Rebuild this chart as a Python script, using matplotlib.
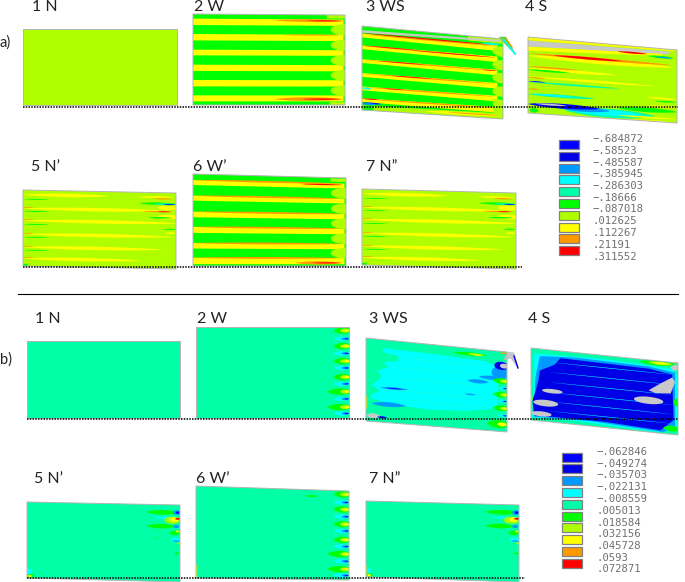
import numpy as np
import matplotlib
matplotlib.use("Agg")
import matplotlib.pyplot as plt
from matplotlib.patches import Polygon, Rectangle

D = '#0000ff'; N = '#0000e6'; S = '#0099ff'; C = '#00ffff'; T = '#00ffa6'
G = '#00ff00'; L = '#b0ff00'; Y = '#ffff00'; O = '#ff9900'; R = '#ff0000'; X = '#c8c8c8'

legend_colors = [D, N, S, C, T, G, L, Y, O, R]
labels_a = ['\u2212.684872', '\u2212.58523', '\u2212.485587', '\u2212.385945', '\u2212.286303', '\u2212.18666',
            '\u2212.087018', '.012625', '.112267', '.21191', '.311552']
labels_b = ['\u2212.062846', '\u2212.049274', '\u2212.035703', '\u2212.022131', '\u2212.008559', '.005013',
            '.018584', '.032156', '.045728', '.0593', '.072871']

#panel corners: top left, top right, bottom right, bottom left (image pixels)
a1 = [(23, 29), (177, 29), (177, 105), (23, 105)]
a2 = [(193, 14), (345, 15), (345, 105), (193, 105)]
a3 = [(362, 26), (503, 39), (503, 119), (362, 110)]
a4 = [(528, 37), (677, 50), (677, 123), (528, 113)]
a5 = [(23, 190), (176, 193), (176, 269), (23, 266)]
a6 = [(193, 174), (346, 178), (346, 266), (193, 266)]
a7 = [(362, 189), (516, 193), (516, 269), (362, 265)]
b1 = [(27, 341), (180, 341), (180, 418), (27, 418)]
b2 = [(196, 327), (349, 327), (349, 418), (196, 418)]
b3 = [(366, 338), (507, 352), (507, 432), (366, 421)]
b4 = [(531, 348), (678, 363), (678, 435), (531, 420)]
b5 = [(27, 502), (180, 505), (180, 582), (27, 578)]
b6 = [(196, 486), (349, 491), (349, 580), (196, 578)]
b7 = [(366, 501), (519, 505), (519, 582), (366, 577)]


def band(c, u0, u1, t0, b0, t1=None, b1=None):
    t1 = t0 if t1 is None else t1
    b1 = b0 if b1 is None else b1
    return c, [(u0, t0), (u1, t1), (u1, b1), (u0, b0)]


def spin(c, u0, u1, v, h):
    t = np.linspace(0, 1, 30)
    w = h * np.sin(np.pi * t) ** 0.7
    u = u0 + (u1 - u0) * t
    return c, list(zip(u, v - w)) + list(zip(u[::-1], (v + w)[::-1]))


def blob(c, uc, vc, ru, rv):
    t = np.linspace(0, 2 * np.pi, 40)
    return c, list(zip(uc + ru * np.cos(t), vc + rv * np.sin(t)))


#a) 2 W
w_stripes = [(.051, .121), (.22, .29), (.392, .454), (.557, .626), (.725, .795), (.894, .96)]
w_bulbs = [.165, .335, .505, .67, .84]
a2_shapes = [band(Y, 0, .99, s, e) for s, e in w_stripes]
a2_shapes += [blob(L, 1.0, v, .095, .062) for v in w_bulbs]
a2_shapes += [band(L, .88, 1, 0, .04), band(L, .9, 1, .965, 1)]
a2_shapes += [spin(O, .54, .99, .065, .015), spin(R, .75, .98, .067, .006), spin(O, .58, .97, .225, .006),
              spin(O, .54, .99, .935, .02), spin(R, .72, .97, .935, .007)]

#a) 3 WS
ws_stripes = [.115, .255, .42, .585, .745, .885]
a3_shapes = [band(L, .75, 1, 0, .06)]
a3_shapes += [band(X, 0, .98, .05, .08, .015, .04)]
a3_shapes += [band(Y, 0, .96, v - .025, v + .02, v - .03, v + .04) for v in ws_stripes]
a3_shapes += [spin(O, 0, .96, v - .018, .008) for v in ws_stripes]
a3_shapes += [spin(R, 0, .97, .085, .007), spin(R, 0, .4, .232, .005), spin(R, .35, .95, .24, .005),
              spin(R, .12, .45, .4, .005), spin(R, .85, .96, .405, .005), spin(R, .2, .5, .565, .005),
              spin(R, .15, .3, .725, .005), spin(R, 0, .12, .865, .006)]
a3_shapes += [blob(L, .995, v, .07, .065) for v in [.16, .33, .49, .66]]
a3_shapes += [band(L, .93, 1, .76, 1), band(L, .0, 1, .945, 1, .93, 1), spin(Y, .45, .99, .965, .018),
              spin(O, .6, .98, .96, .007), spin(C, 0, .07, .74, .012), spin(D, 0, .14, .915, .01),
              spin(S, 0, .1, .925, .012), band(G, 0, .08, .95, 1), spin(C, .85, .98, .075, .012)]

#a) 4 S
a4_shapes = [band(Y, 0, .98, 0, .04, 0, .02), band(X, 0, .95, .045, .125, .03, .07), band(Y, 0, .9, .13, .18, .07, .1)]
a4_shapes += [spin(Y, 0, .98, .245, .035), spin(O, 0, .97, .215, .018), spin(R, .17, .63, .215, .016),
              spin(R, .6, .8, .09, .012), spin(G, .8, .98, .115, .016), spin(S, .85, .97, .12, .008),
              spin(Y, 0, .6, .41, .02), spin(O, 0, .35, .385, .01), spin(G, 0, .28, .43, .012),
              spin(Y, 0, .85, .52, .015), spin(O, 0, .12, .53, .008), spin(T, 0, .62, .59, .012),
              spin(D, 0, .12, .58, .006), spin(O, 0, .08, .68, .008), spin(Y, .8, 1, .68, .015),
              spin(G, .85, 1, .72, .01), spin(T, 0, .45, .75, .02), spin(C, .02, .3, .745, .012),
              spin(Y, .8, 1, .79, .012), spin(G, .6, 1, .85, .03)]
a4_shapes += [spin(T, .25, .85, .93, .06), spin(C, .28, .76, .925, .04), spin(S, .2, .55, .9, .035),
              spin(D, 0, .48, .88, .032), spin(X, .05, .26, .87, .012), spin(Y, .6, 1, .95, .012),
              spin(Y, .7, 1, .995, .012), spin(G, .01, .07, .96, .03)]

#a) 5 N' and 7 N''
n_yellow = [(.06, .55), (.24, .95), (.40, 1.0), (.58, .97), (.75, .9), (.90, .75)]
n_green = [.12, .28, .45, .62, .79]
a5_shapes = [spin(Y, 0, e * 1.02, v, .022) for v, e in n_yellow]
a5_shapes += [spin(O, 0, .07, v - .012, .005) for v, e in n_yellow[1:]]
a5_shapes += [spin(G, 0, .17, v, .006) for v in n_green]
a5_shapes += [blob(Y, .95, .2, .07, .03), blob(Y, .95, .32, .07, .03), spin(Y, .75, .99, .06, .012),
              spin(O, .85, .98, .08, .008), spin(G, .76, 1, .145, .016), spin(T, .85, 1, .15, .012),
              spin(D, .92, 1, .155, .006), spin(O, .78, .98, .25, .008), spin(R, .88, .97, .25, .006),
              spin(G, .82, .98, .33, .01), spin(G, .92, 1, .48, .008), spin(Y, .93, 1, .53, .012),
              band(G, 0, .03, .97, 1)]
a7_shapes = list(a5_shapes)

#a) 6 W'
wp_stripes = [(.065, .12), (.235, .29), (.41, .47), (.575, .64), (.75, .81), (.91, .98)]
wp_bulbs = [.175, .35, .52, .69, .855]
a6_shapes = [band(Y, 0, .99, s, e) for s, e in wp_stripes]
a6_shapes += [spin(O, 0, .98, s, .01) for s, e in wp_stripes]
a6_shapes += [blob(L, 1.0, v, .1, .06) for v in wp_bulbs]
a6_shapes += [band(L, .9, 1, .01, .045), spin(R, .7, .98, .08, .007), spin(O, .67, .98, .965, .018),
              spin(R, .78, .96, .965, .006)]

#b) 2 W and 6 W'
b_green = [.04, .21, .375, .55, .71, .88]
b_blue = [.13, .29, .45, .625, .79, .95]
b2_shapes = []
for i, v in enumerate(b_green):
    e = .86 if i > 3 else .9
    b2_shapes += [spin(G, e, 1.02, v, .035), spin(L, .94, 1.01, v, .022), spin(Y, .97, 1.01, v, .012)]
for v in b_blue:
    b2_shapes += [spin(C, .9, 1.0, v, .025), spin(S, .95, 1.0, v, .014), spin(D, .97, 1.0, v, .006)]
b2_shapes += [band(L, 0, .008, .86, 1)]
b6_shapes = list(b2_shapes) + [spin(G, .71, .8, .07, .01)]

#b) 3 WS
b3_cyan = [(.12, .1), (.55, .12), (.85, .14), (.94, .2), (.93, .72), (.7, .78), (.45, .8), (.2, .78), (.03, .72),
           (.05, .66), (.1, .62), (.04, .56), (.09, .49), (.11, .44), (.08, .38), (.16, .33), (.12, .27), (.23, .24),
           (.23, .18), (.12, .15)]
b3_shapes = [(C, b3_cyan)]
b3_shapes += [spin('#20ffd8', .12, .9, v, .004) for v in [.2, .32, .45, .6, .72]]
b3_shapes += [spin(S, .1, .3, .58, .015), spin(S, .04, .28, .78, .028), spin(S, .72, .87, .4, .025),
              spin(S, .7, .78, .57, .01), spin(D, .14, .26, .58, .005), blob(S, .95, .27, .06, .08),
              spin(S, .8, .98, .34, .025), blob(N, .96, .18, .05, .05), blob(X, .98, .18, .03, .03),
              spin(G, .62, .86, .07, .02), spin(L, .72, .84, .07, .012), spin(Y, .75, .82, .072, .008),
              spin(O, .95, 1, .02, .01), spin(X, 0, .1, .93, .03), spin(N, .08, .15, .94, .012),
              band(L, 0, .008, .7, .85)]
for v in [.37, .54, .71, .9]:
    b3_shapes += [spin(G, .9, 1.02, v, .035), spin(L, .95, 1.01, v, .022), spin(Y, .975, 1.01, v, .01)]
for v in [.46, .62, .8]:
    b3_shapes += [spin(C, .93, 1.0, v, .018), spin(D, .97, 1.0, v, .007)]
b3_shapes += [spin(G, .86, 1.02, .91, .05), spin(Y, .93, 1.0, .91, .025)]

#b) 4 S
b4_teal = [(.01, .05), (.5, .03), (.97, .07), (1, .2), (1, .95), (.85, 1), (.3, .97), (.01, .98)]
b4_cyan = [(.02, .07), (.5, .05), (.97, .09), (.995, .2), (.99, .94), (.85, .99), (.3, .95), (.01, .96)]
b4_sky = [(.06, .1), (.3, .07), (.8, .09), (.98, .14), (.98, .9), (.9, .98), (.4, .93), (.02, .95), (.03, .4)]
b4_blue = [(.2, .1), (.8, .12), (.96, .17), (.97, .8), (.88, .96), (.5, .92), (.02, .93),
           (.01, .72), (.03, .6), (.05, .45), (.06, .3), (.16, .2)]
b4_shapes = [(T, b4_teal), (C, b4_cyan), (S, b4_sky), (N, b4_blue)]
b4_shapes += [spin(C, .12, .97, v, .004) for v in [.17, .31, .45, .59, .72, .85]]
b4_shapes += [(X, [(.8, .42), (.88, .31), (.96, .21), (.98, .27), (.95, .435), (.845, .45)]),
              blob(X, .8, .56, .1, .05), blob(X, .145, .57, .07, .03), blob(X, .1, .745, .085, .045),
              blob(X, .07, .9, .07, .035), blob(X, .98, .07, .03, .04),
              spin(G, .74, .98, .03, .035), spin(L, .8, .96, .03, .022), spin(Y, .83, .94, .03, .014),
              spin(O, .95, 1, .0, .012), spin(G, .9, 1.02, .92, .04), blob(G, 1, .55, .03, .06), blob(L, 0, .7, .01, .05)]

#b) 5 N' and 7 N''
b5_shapes = [spin(G, .78, 1, .1, .03), spin(C, .82, .98, .17, .014), spin(G, .78, .97, .28, .03), blob(L, .95, .2, .05, .045),
             blob(Y, .965, .19, .025, .03), blob(R, .985, .18, .017, .012), blob(S, .98, .1, .025, .03), blob(D, .985, .1, .012, .016),
             blob(S, .975, .28, .02, .02), spin(G, .93, 1, .365, .03), blob(Y, .985, .345, .012, .012), blob(C, .97, .45, .03, .03),
             spin(S, .95, 1, .47, .01), blob(L, .99, .5, .01, .012), blob(G, .98, .63, .015, .012), blob(G, .85, .44, .01, .006),
             band(C, 0, .03, .88, .95), band(G, 0, .04, .95, 1), band(Y, .01, .03, .96, .99), band(L, 0, .005, .85, 1)]
b7_shapes = list(b5_shapes)

panels = [(a1, L, []), (a2, G, a2_shapes), (a3, G, a3_shapes), (a4, L, a4_shapes), (a5, L, a5_shapes), (a6, G, a6_shapes),
          (a7, L, a7_shapes), (b1, T, [band(L, 0, .008, .86, 1)]), (b2, T, b2_shapes), (b3, T, b3_shapes), (b4, T, b4_shapes),
          (b5, T, b5_shapes), (b6, T, b6_shapes), (b7, T, b7_shapes)]

titles = [('1 N', 32, 11), ('2 W', 194, 11), ('3 WS', 366, 11), ('4 S', 525, 11), ('5 N\u2019', 31, 171), ('6 W\u2019', 193, 171),
          ('7 N\u201d', 366, 171), ('1 N', 35, 323), ('2 W', 197, 323), ('3 WS', 369, 323), ('4 S', 528, 323),
          ('5 N\u2019', 34, 483), ('6 W\u2019', 196, 483), ('7 N\u201d', 369, 483)]
dotted = [(23, 678, 106.5), (23, 522, 266.5), (27, 678, 419), (27, 525, 578)]


def to_xy(quad, pts):
    q = np.array(quad, float)
    p = np.array(pts, float)
    u, v = p[:, 0:1], p[:, 1:2]
    top = q[0] + (q[1] - q[0]) * u
    bot = q[3] + (q[2] - q[3]) * u
    return top + (bot - top) * v


fig = plt.figure(figsize=(6.85, 5.82), dpi=100)
ax = fig.add_axes([0, 0, 1, 1])
ax.set_xlim(0, 685)
ax.set_ylim(582, 0)
ax.axis('off')

for quad, base, shapes in panels:
    outline = Polygon(quad, closed=True, fc=base, ec='none', zorder=2)
    ax.add_patch(outline)
    for c, pts in shapes:
        p = Polygon(to_xy(quad, pts), closed=True, fc=c, ec='none', zorder=3)
        ax.add_patch(p)
        p.set_clip_path(outline)
    ax.add_patch(Polygon(quad, closed=True, fc='none', ec='#b4b4b4', lw=0.7, zorder=4))

#bent corner of the two 3 WS panels
ax.add_patch(Polygon([(499, 37), (506, 37), (516, 55), (506, 45)], fc=G, ec='#b4b4b4', lw=0.4, zorder=3))
ax.plot([504, 515], [40, 54], color=C, lw=1.2, zorder=4)
ax.plot([505, 512], [38, 47], color=O, lw=1.0, zorder=4)
ax.add_patch(Polygon([(507, 352), (514, 353), (518, 368), (511, 358), (504, 360)], fc=X, ec='#b4b4b4', lw=0.4, zorder=3))
ax.plot([514, 518], [356, 368], color=N, lw=1.0, zorder=4)

for x0, x1, y in dotted:
    ax.plot([x0, x1], [y, y], color='black', lw=1.1, ls=(0, (1, 0.8)), zorder=5)

ax.plot([18, 678], [294, 294], color='black', lw=0.8)

for txt, x, y in titles:
    ax.text(x, y, txt, fontsize=11.5, family='Lato', color='#222222', va='baseline', ha='left')
ax.text(0, 47, 'a)', fontsize=10.5, family='Lato', color='#222222', va='baseline')
ax.text(0, 364, 'b)', fontsize=10.5, family='Lato', color='#222222', va='baseline')

for labels, sx, sy, lx, ly in [(labels_a, 559, 140, 593, 139), (labels_b, 562, 452.5, 597, 452)]:
    for i, c in enumerate(legend_colors):
        ax.add_patch(Rectangle((sx, sy + i * 11.8), 20, 9, fc=c, ec='#808080', lw=0.9))
    for i, t in enumerate(labels):
        ax.text(lx, ly + i * 11.75, t, fontsize=7.7, family='DejaVu Sans Mono', color='#707070', va='center', ha='left')

fig.savefig('out.png', dpi=100)
